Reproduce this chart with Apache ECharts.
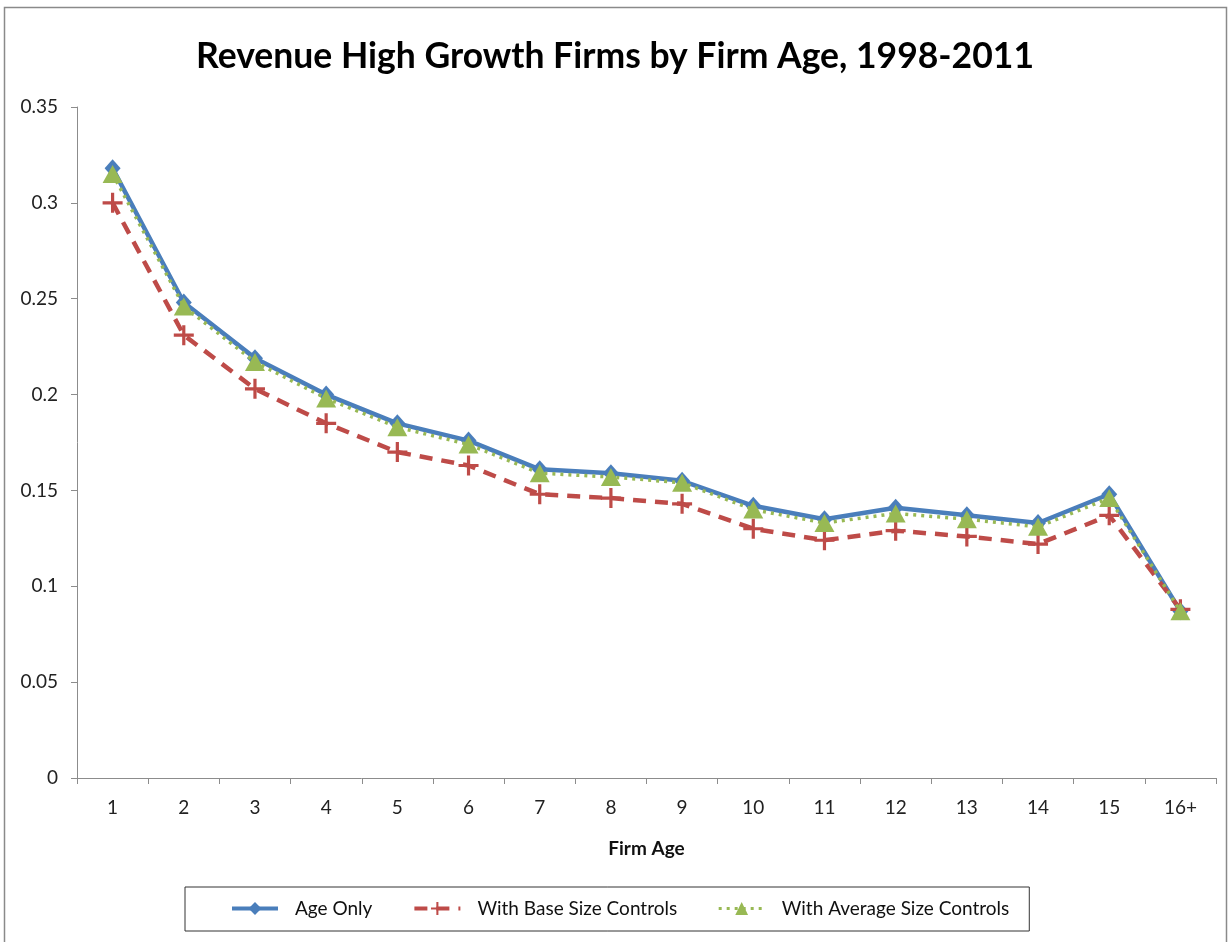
<!DOCTYPE html>
<html>
<head>
<meta charset="utf-8">
<script src="https://cdn.jsdelivr.net/npm/echarts@6/dist/echarts.min.js"></script>
<style>
  html, body { margin: 0; padding: 0; background: #fff; }
  #chart { width: 1230px; height: 942px; }
</style>
</head>
<body>
<div id="chart"></div>
<script>
// Firm age categories
const firmAges = ['1', '2', '3', '4', '5', '6', '7', '8', '9', '10', '11', '12', '13', '14', '15', '16+'];

// Share of revenue high-growth firms
const ageOnly = [0.318, 0.248, 0.219, 0.200, 0.185, 0.176, 0.161, 0.159, 0.155, 0.142, 0.135, 0.141, 0.137, 0.133, 0.148, 0.087];
const baseSizeControls = [0.300, 0.231, 0.203, 0.185, 0.170, 0.163, 0.148, 0.146, 0.143, 0.130, 0.124, 0.129, 0.126, 0.122, 0.137, 0.088];
const averageSizeControls = [0.315, 0.246, 0.217, 0.198, 0.183, 0.174, 0.159, 0.157, 0.154, 0.140, 0.133, 0.138, 0.135, 0.131, 0.146, 0.087];

const yTicks = { min: 0, max: 0.35, interval: 0.05 };

const FONT = 'Lato, "Open Sans", "Noto Sans", sans-serif';
const PLUS = 'path://M4.2,0h1.6v4.2h4.2v1.6h-4.2v4.2h-1.6v-4.2h-4.2v-1.6h4.2z';

const BLUE = '#4a7ebb';
const RED = '#be4b48';
const GREEN = '#98b954';

const chart = echarts.init(document.getElementById('chart'), null, { renderer: 'canvas' });

chart.setOption({
  backgroundColor: '#ffffff',
  animation: false,
  textStyle: { fontFamily: FONT },
  graphic: [{
    type: 'rect',
    shape: { x: 4.5, y: 7.5, width: 1222, height: 940 },
    style: { fill: 'none', stroke: '#8a8a8a', lineWidth: 1.5 },
    silent: true
  }],
  title: {
    text: 'Revenue High Growth Firms by Firm Age, 1998-2011',
    left: 'center',
    top: 34,
    textStyle: { fontFamily: FONT, fontSize: 35.5, fontWeight: 'bold', color: '#000' }
  },
  grid: { left: 77, right: 14, top: 107, bottom: 164, containLabel: false },
  legend: {
    left: 185,
    top: 887,
    padding: [12, 20, 13, 45],
    itemGap: 40,
    itemWidth: 46,
    itemHeight: 16,
    borderColor: '#333',
    borderWidth: 1,
    textStyle: { fontFamily: FONT, fontSize: 19, color: '#111', padding: [0, 0, 0, 12] },
    data: [
      { name: 'Age Only', lineStyle: { width: 4 } },
      { name: 'With Base Size Controls', lineStyle: { width: 4 } },
      { name: 'With Average Size Controls', lineStyle: { width: 3 } }
    ]
  },
  xAxis: {
    type: 'category',
    data: firmAges,
    boundaryGap: true,
    name: 'Firm Age',
    nameLocation: 'middle',
    nameGap: 61,
    nameTextStyle: { fontFamily: FONT, fontSize: 19, fontWeight: 'bold', color: '#111' },
    axisLine: { lineStyle: { color: '#8c8c8c', width: 1 } },
    axisTick: { show: true, inside: false, length: 6, lineStyle: { color: '#8c8c8c' } },
    axisLabel: { fontFamily: FONT, fontSize: 19, color: '#222', margin: 20 },
    splitLine: { show: false }
  },
  yAxis: {
    type: 'value',
    min: yTicks.min,
    max: yTicks.max,
    interval: yTicks.interval,
    axisLine: { show: true, lineStyle: { color: '#8c8c8c', width: 1 } },
    axisTick: { show: true, inside: false, length: 6, lineStyle: { color: '#8c8c8c' } },
    axisLabel: { fontFamily: FONT, fontSize: 19, color: '#222', margin: 19 },
    splitLine: { show: false }
  },
  series: [
    {
      name: 'Age Only',
      type: 'line',
      data: ageOnly,
      symbol: 'diamond',
      symbolSize: [16, 18],
      lineStyle: { color: BLUE, width: 4.5 },
      itemStyle: { color: BLUE },
      z: 2
    },
    {
      name: 'With Base Size Controls',
      type: 'line',
      data: baseSizeControls,
      symbol: PLUS,
      symbolSize: [20, 20],
      lineStyle: { color: RED, width: 4.5, type: [13, 9] },
      itemStyle: { color: RED },
      z: 3
    },
    {
      name: 'With Average Size Controls',
      type: 'line',
      data: averageSizeControls,
      symbol: 'triangle',
      symbolSize: [20, 18],
      lineStyle: { color: GREEN, width: 3.5, type: [3, 5] },
      itemStyle: { color: GREEN },
      z: 4
    }
  ]
});
</script>
</body>
</html>
